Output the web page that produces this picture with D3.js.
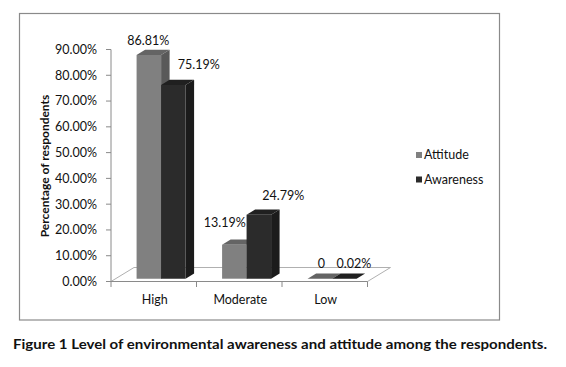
<!DOCTYPE html>
<html>
<head>
<meta charset="utf-8">
<script src="https://cdn.jsdelivr.net/npm/d3@7"></script>
<style>
  html, body { margin: 0; padding: 0; background: #fff; }
  svg { display: block; }
  text { font-family: Lato, "Open Sans", sans-serif; fill: #111; }
</style>
</head>
<body>
<div id="root"></div>
<script>
const categories = ["High", "Moderate", "Low"];
const series = ["Attitude", "Awareness"];
const attitude = [86.81, 13.19, 0];
const awareness = [75.19, 24.79, 0.02];
const valueLabels = [["86.81%", "75.19%"], ["13.19%", "24.79%"], ["0", "0.02%"]];
const yTicks = [0, 10, 20, 30, 40, 50, 60, 70, 80, 90];

const width = 566;
const height = 367;

const svg = d3
  .select("#root")
  .append("svg")
  .attr("width", width)
  .attr("height", height);

// chart frame
svg
  .append("rect")
  .attr("x", 19.5)
  .attr("y", 13.5)
  .attr("width", 480)
  .attr("height", 306.5)
  .attr("fill", "none")
  .attr("stroke", "#8a8a8a")
  .attr("stroke-width", 1.2);

const x = d3.scaleBand().domain(categories).range([111, 367.5]);
const xInner = d3
  .scaleBand()
  .domain(series)
  .range([0, x.bandwidth()])
  .paddingInner(0)
  .paddingOuter(0.745)
  .align(0.575);
const y = d3.scaleLinear().domain([0, 90]).range([281.5, 49.5]);

// oblique depth: full floor depth
const depth = [23, -14];
const proj = (px, py, t) => [px + depth[0] * t, py + depth[1] * t];
const t0 = 0.2;
const t1 = 0.57;

// floor
const floor = [
  proj(x.range()[0], y(0), 0),
  proj(x.range()[1], y(0), 0),
  proj(x.range()[1], y(0), 1),
  proj(x.range()[0], y(0), 1),
];
svg
  .append("polygon")
  .attr("points", floor.map((p) => p.join(",")).join(" "))
  .attr("fill", "#fff")
  .attr("stroke", "#b0b0b0")
  .attr("stroke-width", 1);

// axes
const axisColor = "#8a8a8a";
svg
  .append("line")
  .attr("x1", 111)
  .attr("x2", 111)
  .attr("y1", y(0))
  .attr("y2", y(90))
  .attr("stroke", axisColor);
svg
  .append("line")
  .attr("x1", x.range()[0])
  .attr("x2", x.range()[1])
  .attr("y1", y(0))
  .attr("y2", y(0))
  .attr("stroke", axisColor);

svg
  .append("g")
  .selectAll("line")
  .data(yTicks)
  .join("line")
  .attr("x1", 106)
  .attr("x2", 111)
  .attr("y1", (d) => y(d))
  .attr("y2", (d) => y(d))
  .attr("stroke", axisColor);

svg
  .append("g")
  .selectAll("text")
  .data(yTicks)
  .join("text")
  .attr("x", 97)
  .attr("y", (d) => y(d))
  .attr("dy", "0.35em")
  .attr("text-anchor", "end")
  .attr("font-size", 12.5)
  .text((d) => d3.format(".2%")(d / 100));

const xBounds = categories.map((c) => x(c)).concat([x.range()[1]]);
svg
  .append("g")
  .selectAll("line")
  .data(xBounds)
  .join("line")
  .attr("x1", (d) => d)
  .attr("x2", (d) => d)
  .attr("y1", y(0))
  .attr("y2", y(0) + 5.5)
  .attr("stroke", axisColor);

svg
  .append("g")
  .selectAll("text")
  .data(categories)
  .join("text")
  .attr("x", (d) => x(d) + x.bandwidth() / 2 + 1)
  .attr("y", 304)
  .attr("text-anchor", "middle")
  .attr("font-size", 12.5)
  .text((d) => d);

// axis title
svg
  .append("text")
  .attr("transform", "translate(49,166) rotate(-90)")
  .attr("text-anchor", "middle")
  .attr("font-size", 12)
  .attr("font-weight", "bold")
  .attr("fill", "#000")
  .text("Percentage of respondents");

// bars
const colors = {
  Attitude: { front: "#808080", top: "#646464", side: "#595959" },
  Awareness: { front: "#2b2b2b", top: "#202020", side: "#1b1b1b" },
};
const values = { Attitude: attitude, Awareness: awareness };

const bars = [];
series.forEach((s, si) => {
  categories.forEach((c, ci) => {
    bars.push({ s, si, c, ci, v: values[s][ci] });
  });
});

const poly = (pts) => pts.map((p) => p.join(",")).join(" ");

const barG = svg
  .append("g")
  .selectAll("g")
  .data(bars)
  .join("g");

barG.each(function (d) {
  const g = d3.select(this);
  const xl = x(d.c) + xInner(d.s);
  const xr = xl + xInner.bandwidth();
  const yb = y(0);
  const yt = y(d.v);
  const col = colors[d.s];
  g.append("polygon")
    .attr("points", poly([proj(xr, yb, t0), proj(xr, yb, t1), proj(xr, yt, t1), proj(xr, yt, t0)]))
    .attr("fill", col.side);
  g.append("polygon")
    .attr("points", poly([proj(xl, yt, t0), proj(xr, yt, t0), proj(xr, yt, t1), proj(xl, yt, t1)]))
    .attr("fill", col.top);
  g.append("polygon")
    .attr("points", poly([proj(xl, yb, t0), proj(xr, yb, t0), proj(xr, yt, t0), proj(xl, yt, t0)]))
    .attr("fill", col.front);
});

// data labels (nudged like the original placement)
const labelNudge = [
  [[-5, -5], [21, -11]],
  [[-14, -13], [20, -9.5]],
  [[-3, -5.5], [5, -5.5]],
];
svg
  .append("g")
  .selectAll("text")
  .data(bars)
  .join("text")
  .attr("x", (d) => {
    const cx = x(d.c) + xInner(d.s) + xInner.bandwidth() / 2;
    return proj(cx, 0, t1)[0] + labelNudge[d.ci][d.si][0] - 4;
  })
  .attr("y", (d) => proj(0, y(d.v), t1)[1] + labelNudge[d.ci][d.si][1])
  .attr("text-anchor", "middle")
  .attr("font-size", 12.5)
  .text((d) => valueLabels[d.ci][d.si]);

// legend
const legend = svg
  .append("g")
  .selectAll("g")
  .data(series)
  .join("g")
  .attr("transform", (d, i) => `translate(416, ${155 + i * 24.5})`);
legend
  .append("rect")
  .attr("x", 0)
  .attr("y", -3)
  .attr("width", 6)
  .attr("height", 6)
  .attr("fill", (d) => colors[d].front);
legend
  .append("text")
  .attr("x", 8)
  .attr("dy", "0.35em")
  .attr("font-size", 12.5)
  .text((d) => d);

// caption
svg
  .append("text")
  .attr("x", 13)
  .attr("y", 349)
  .attr("font-size", 13.5)
  .attr("font-weight", "bold")
  .attr("fill", "#000")
  .attr("textLength", 534)
  .attr("lengthAdjust", "spacingAndGlyphs")
  .text("Figure 1 Level of environmental awareness and attitude among the respondents.");
</script>
</body>
</html>
